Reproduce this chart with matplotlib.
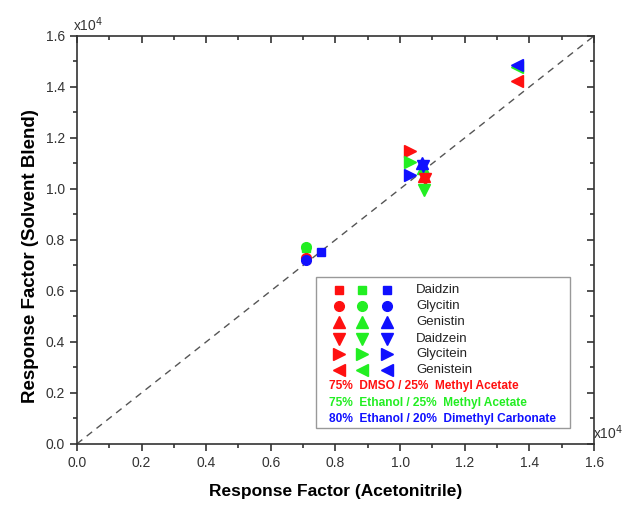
import matplotlib
matplotlib.use("Agg")
import matplotlib.pyplot as plt
from matplotlib.patches import Rectangle
from matplotlib.ticker import MultipleLocator

plt.rcParams['font.family'] = ['Liberation Sans', 'DejaVu Sans']

# response factors (x10^4), order: DMSO blend, Ethanol/MeAc, Ethanol/DMC
compounds = ['Daidzin', 'Glycitin', 'Genistin', 'Daidzein', 'Glycitein', 'Genistein']
markers = ['s', 'o', '^', 'v', '>', '<']
x_acn = {
    'Daidzin':   [0.710, 0.710, 0.755],
    'Glycitin':  [0.710, 0.710, 0.710],
    'Genistin':  [1.075, 1.072, 1.068],
    'Daidzein':  [1.078, 1.075, 1.072],
    'Glycitein': [1.032, 1.030, 1.030],
    'Genistein': [1.360, 1.360, 1.360],
}
y_blend = {
    'Daidzin':   [0.726, 0.770, 0.753],
    'Glycitin':  [0.728, 0.774, 0.722],
    'Genistin':  [1.052, 1.080, 1.100],
    'Daidzein':  [1.040, 0.996, 1.088],
    'Glycitein': [1.150, 1.105, 1.055],
    'Genistein': [1.422, 1.478, 1.486],
}
blends = ['75%  DMSO / 25%  Methyl Acetate',
          '75%  Ethanol / 25%  Methyl Acetate',
          '80%  Ethanol / 20%  Dimethyl Carbonate']
colors = ['#ff1010', '#22ee22', '#1010ff']
msizes = {'s': 6.0, 'o': 7.0, '^': 8.0, 'v': 8.0, '>': 8.0, '<': 8.0}
diag = [0.0, 1.6]

fig = plt.figure(figsize=(6.3, 5.05), dpi=100)
ax = fig.add_axes([0.122, 0.121, 0.821, 0.808])

ax.plot(diag, diag, linestyle=(0, (5, 4)), color='#555555', lw=1.0, zorder=1)

for comp, mk in zip(compounds, markers):
    for i, c in enumerate(colors):
        ax.plot(x_acn[comp][i], y_blend[comp][i], marker=mk, color=c,
                ms=msizes[mk], mec=c, ls='none', zorder=3)

ax.set_xlim(0, 1.6)
ax.set_ylim(0, 1.6)
ax.xaxis.set_major_locator(MultipleLocator(0.2))
ax.xaxis.set_minor_locator(MultipleLocator(0.1))
ax.yaxis.set_major_locator(MultipleLocator(0.2))
ax.yaxis.set_minor_locator(MultipleLocator(0.1))
ax.xaxis.set_major_formatter(plt.FormatStrFormatter('%.1f'))
ax.yaxis.set_major_formatter(plt.FormatStrFormatter('%.1f'))
ax.tick_params(which='both', top=True, right=True, labelsize=10, colors='#333333', width=1.2)
ax.tick_params(which='major', length=5)
ax.tick_params(which='minor', length=3)
for s in ax.spines.values():
    s.set_linewidth(1.2)
    s.set_color('#333333')

# top / right ticks point inward
for tick in ax.xaxis.get_major_ticks() + ax.xaxis.get_minor_ticks():
    tick.tick2line.set_marker(matplotlib.lines.TICKDOWN)
for tick in ax.yaxis.get_major_ticks() + ax.yaxis.get_minor_ticks():
    tick.tick2line.set_marker(matplotlib.lines.TICKLEFT)

ax.set_xlabel('Response Factor (Acetonitrile)', fontsize=12.5, fontweight='bold', labelpad=10)
ax.set_ylabel('Response Factor (Solvent Blend)', fontsize=13.5, fontweight='bold')
ax.yaxis.set_label_coords(-0.074, 0.46)

ax.text(-0.008, 1.005, r'x10$^{4}$', transform=ax.transAxes, fontsize=10,
        color='#333333', ha='left', va='bottom')
ax.text(0.998, 0.005, r'x10$^{4}$', transform=ax.transAxes, fontsize=10,
        color='#333333', ha='left', va='bottom')

# legend box
ax.add_patch(Rectangle((0.462, 0.039), 0.492, 0.370, transform=ax.transAxes,
                       fill=True, fc='white', ec='#999999', lw=1.0, zorder=4))
row_y = [0.376, 0.337, 0.298, 0.258, 0.220, 0.181]
col_x = [0.507, 0.551, 0.600]
for comp, mk, yy in zip(compounds, markers, row_y):
    for c, xx in zip(colors, col_x):
        ax.plot(xx, yy, marker=mk, color=c, ms=msizes[mk], ls='none',
                transform=ax.transAxes, zorder=5)
    ax.text(0.656, yy, comp, transform=ax.transAxes, fontsize=9.5,
            color='#222222', va='center', ha='left', zorder=5)
for lbl, c, yy in zip(blends, colors, [0.141, 0.100, 0.061]):
    ax.text(0.487, yy, lbl, transform=ax.transAxes, fontsize=8.6,
            fontweight='bold', color=c, va='center', ha='left', zorder=5)

fig.savefig('out.png', dpi=100)
